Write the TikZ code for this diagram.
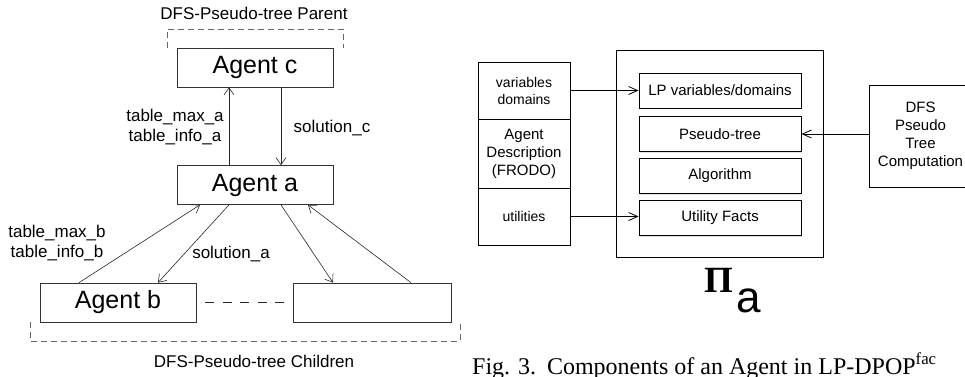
\documentclass[tikz,border=0pt]{standalone}
\usepackage{fontspec}
\setmainfont{Liberation Sans}
\newfontfamily\capfont{Liberation Serif}
\usetikzlibrary{arrows.meta,shadows,calc}

\tikzset{
  agent/.style={draw=black!80, line width=0.7pt, minimum width=156pt, minimum height=39pt,
    inner sep=0pt, font=\fontsize{25}{28}\selectfont},
  lbl/.style={font=\fontsize{17}{20}\selectfont, align=center, inner sep=0pt},
  flow/.style={draw=black!85, line width=0.6pt, -{Straight Barb[length=7pt,width=10pt]}},
  bracket/.style={draw=black!60, line width=0.8pt, dash pattern=on 6pt off 4pt},
  pbox/.style={draw, line width=0.9pt, fill=white, inner sep=0pt, align=center,
    drop shadow={shadow xshift=0.6pt, shadow yshift=-1pt, opacity=0.25}},
  part/.style={pbox, minimum width=162pt, minimum height=35pt, font=\fontsize{15}{18}\selectfont},
  col/.style={pbox, minimum width=92pt},
  feed/.style={draw, line width=0.8pt, -{Straight Barb[length=9pt,width=8pt]}}
}

\begin{document}
\begin{tikzpicture}[x=1pt,y=-1pt]
\useasboundingbox (0,0) rectangle (965,376);

% ---------- DFS pseudo-tree messages ----------
\node[lbl] (parentlbl) at (254,13) {DFS-Pseudo-tree Parent};
\coordinate (pb1) at (167,48);
\coordinate (pb2) at (167,29);
\coordinate (pb3) at (343,29);
\coordinate (pb4) at (343,48);
\draw[bracket] (pb1) -- (pb2) -- (pb3) -- (pb4);

\node[agent] (agc) at (255,67.5) {Agent c};
\node[agent] (aga) at (255,185) {Agent a};
\node[agent] (agb) at (118,302.5) {Agent b};
\node[agent, minimum width=158pt] (agx) at (372,302.5) {};

\draw[draw=black!85, line width=1.5pt, dash pattern=on 9pt off 8.5pt]
  ([xshift=9pt]agb.east) -- ([xshift=-8pt]agx.west);

\coordinate (cb1) at (30,322);
\coordinate (cb2) at (30,341);
\coordinate (cb3) at (460,341);
\coordinate (cb4) at (460,322);
\draw[bracket] (cb1) -- (cb2) -- (cb3) -- (cb4);
\node[lbl] (childlbl) at (254,361) {DFS-Pseudo-tree Children};

\draw[flow] ([xshift=-26pt]aga.north) -- ([xshift=-26pt]agc.south);
\draw[flow] ([xshift=26pt]agc.south) -- ([xshift=26pt]aga.north);
\draw[flow] ([xshift=-39pt]agb.north) -- ([xshift=-55pt]aga.south);
\draw[flow] ([xshift=-26pt]aga.south) -- ([xshift=40pt]agb.north);
\draw[flow] ([xshift=26pt]aga.south) -- ([xshift=-39pt]agx.north);
\draw[flow] ([xshift=39pt]agx.north) -- ([xshift=53pt]aga.south);

\node[lbl] (tabA) at (175,127) {table\_max\_a\\table\_info\_a};
\node[lbl] (solC) at (332,128) {solution\_c};
\node[lbl] (tabB) at (57,243) {table\_max\_b\\table\_info\_b};
\node[lbl] (solA) at (231,254) {solution\_a};

% ---------- components of an agent ----------
\node[col, minimum height=57pt, font=\fontsize{14}{17}\selectfont] (vars) at (524,90.5) {variables\\domains};
\node[col, minimum height=69pt, font=\fontsize{15}{18}\selectfont] (desc) at (524,153.5) {Agent\\Description\\(FRODO)};
\node[col, minimum height=57pt, font=\fontsize{14}{17}\selectfont] (util) at (524,216.5) {utilities};

\node[pbox, minimum width=207pt, minimum height=207pt] (prog) at (719.5,153.5) {};
\node[part] (lp) at (720,90.5) {LP variables/domains};
\node[part] (pt) at (720,134) {Pseudo-tree};
\node[part] (alg) at (720,176) {Algorithm};
\node[part] (uf) at (720,218) {Utility Facts};

% the pseudo-tree service box runs on past the right margin
\node[pbox, anchor=west, minimum width=130pt, minimum height=102pt] (dfs) at (869,136) {};
\node[align=center, inner sep=0pt, font=\fontsize{15}{18}\selectfont] (dfstext) at (920.5,136) {DFS\\Pseudo\\Tree\\Computation};

\draw[feed] (vars.east) -- (lp.west);
\draw[feed] (util.east) -- (util.east -| uf.west);
\draw[feed] (pt.east -| dfs.west) -- (pt.east);

\node[font=\capfont\bfseries\fontsize{37}{37}\selectfont, anchor=base, inner sep=0pt] (pi) at (719,292) {Π};
\node[font=\fontsize{44}{44}\selectfont, anchor=base west, inner sep=0pt] (pisub) at (736,312) {a};

\node[font=\capfont\fontsize{24}{24}\selectfont, anchor=base west, inner sep=0pt] (caption) at (472,374)
  {Fig. 3.\hspace{0.45em}Components of an Agent in LP-DPOP\textsuperscript{fac}};
\end{tikzpicture}
\end{document}
